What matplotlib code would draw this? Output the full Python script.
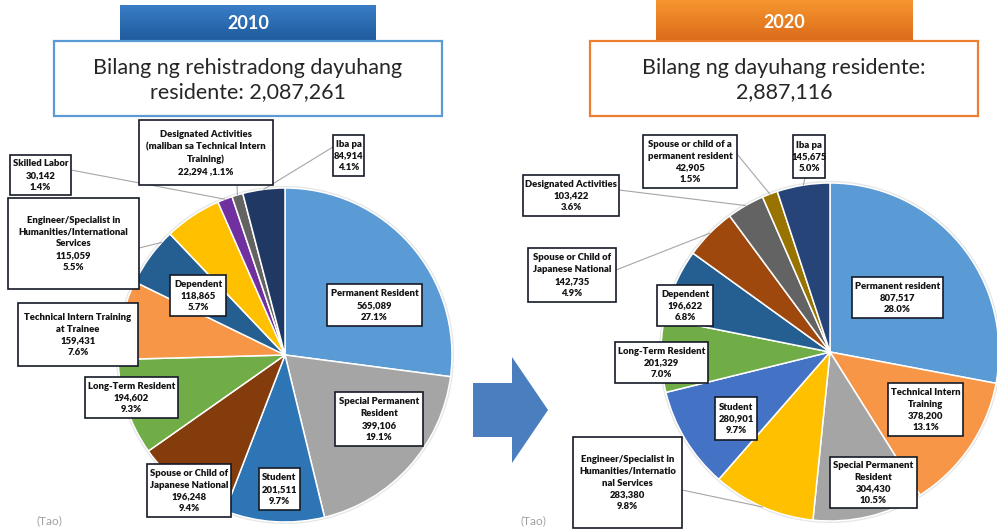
import numpy as np
import matplotlib.pyplot as plt
from matplotlib import font_manager
from matplotlib.font_manager import FontProperties
from matplotlib.patches import Rectangle, Polygon, Circle
from matplotlib.colors import LinearSegmentedColormap

plt.rcParams['font.family'] = ['Lato', 'DejaVu Sans']

# labels need a real bold face; fall back to Roboto if Lato Bold is missing
label_family = 'Lato'
try:
    p = font_manager.findfont(FontProperties(family='Lato', weight='bold'),
                              fallback_to_default=False)
    if 'bold' not in p.lower():
        label_family = 'Roboto'
except Exception:
    label_family = 'Roboto'

W, H = 997, 530

# ---------------- data ----------------
names_2010 = ["Permanent Resident", "Special Permanent\nResident", "Student",
              "Spouse or Child of\nJapanese National", "Long-Term Resident",
              "Technical Intern Training\nat Trainee", "Dependent",
              "Engineer/Specialist in\nHumanities/International\nServices",
              "Skilled Labor",
              "Designated Activities\n(maliban sa Technical Intern\nTraining)",
              "Iba pa"]
values_2010 = [565089, 399106, 201511, 196248, 194602, 159431, 118865, 115059,
               30142, 22294, 84914]
colors_2010 = ["#5B9BD5", "#A5A5A5", "#2E75B6", "#843C0C", "#70AD47", "#F79646",
               "#255E91", "#FFC000", "#7030A0", "#636363", "#203864"]

names_2020 = ["Permanent resident", "Technical Intern\nTraining",
              "Special Permanent\nResident",
              "Engineer/Specialist in\nHumanities/Internatio\nnal Services",
              "Student", "Long-Term Resident", "Dependent",
              "Spouse or Child of\nJapanese National", "Designated Activities",
              "Spouse or child of a\npermanent resident", "Iba pa"]
values_2020 = [807517, 378200, 304430, 283380, 280901, 201329, 196622, 142735,
               103422, 42905, 145675]
colors_2020 = ["#5B9BD5", "#F79646", "#A5A5A5", "#FFC000", "#4472C4", "#70AD47",
               "#255E91", "#9E480E", "#636363", "#997300", "#264478"]

total_2010 = "2,087,261"
total_2020 = "2,887,116"

# ---------------- layout (pixels, origin top-left) ----------------
boxes_2010 = [(327, 284, 422, 326), (335, 392, 423, 446), (259, 468, 300, 510),
              (147, 464, 231, 517), (85, 377, 178, 418), (18, 303, 138, 366),
              (170, 275, 226, 316), (8, 198, 139, 289), (10, 155, 71, 195),
              (139, 120, 273, 185), (333, 135, 364, 176)]
boxes_2020 = [(852, 277, 943, 318), (888, 383, 963, 436), (830, 457, 917, 508),
              (573, 437, 682, 528), (715, 397, 757, 440), (615, 342, 708, 383),
              (657, 285, 713, 326), (528, 248, 616, 302), (523, 175, 619, 216),
              (643, 135, 737, 188), (793, 135, 825, 178)]
# leader lines: index -> (start x, start y, angle shift)
leaders_2010 = {7: (139, 248, 14), 8: (71, 170, 0), 9: (237, 185, 0), 10: (333, 147, 0)}
leaders_2020 = {3: (682, 490, 0), 7: (616, 270, 0), 8: (619, 190, 0),
                9: (737, 154, 0), 10: (805, 178, 0)}
inline_2010 = {9}

fig = plt.figure(figsize=(W / 100, H / 100), dpi=100)
fig.patch.set_facecolor("white")

ov = fig.add_axes([0, 0, 1, 1], zorder=3)
ov.set_xlim(0, W)
ov.set_ylim(H, 0)
ov.axis("off")
ov.patch.set_alpha(0)


def pie_axes(cx, cy, r):
    ax = fig.add_axes([(cx - r) / W, (H - cy - r) / H, 2 * r / W, 2 * r / H], zorder=1)
    return ax


def draw_pie(ax, values, colors):
    # faint shadow like the original
    ax.add_patch(Circle((0, 0), 1.012, facecolor="#e6e6e6", edgecolor="none",
                        zorder=0, clip_on=False))
    ax.pie(values, colors=colors, startangle=90, counterclock=False, radius=1,
           wedgeprops=dict(edgecolor="white", linewidth=1.1))
    ax.set_xlim(-1, 1)
    ax.set_ylim(-1, 1)
    ax.axis("off")


def mid_angles(values):
    v = np.array(values, dtype=float)
    cum = np.cumsum(v) - v / 2
    return 90 - 360 * cum / v.sum()


def draw_labels(ax, names, values, boxes, leaders, inline=()):
    tot = sum(values)
    ang = mid_angles(values)
    for i, (nm, val, bx) in enumerate(zip(names, values, boxes)):
        pct = val / tot * 100
        if i in inline:
            txt = f"{nm}\n{val:,} ,{pct:.1f}%"
        else:
            txt = f"{nm}\n{val:,}\n{pct:.1f}%"
        x0, y0, x1, y1 = bx
        if i in leaders:
            sx, sy, shift = leaders[i]
            t = np.deg2rad(ang[i] + shift)
            ov.annotate("", xy=(np.cos(t), np.sin(t)), xycoords=ax.transData,
                        xytext=(sx, sy), textcoords="data",
                        arrowprops=dict(arrowstyle="-", color="#A6A6A6", lw=0.8,
                                        shrinkA=0, shrinkB=0), zorder=3)
        ov.add_patch(Rectangle((x0, y0), x1 - x0, y1 - y0, facecolor="white",
                               edgecolor="#151a26", lw=1.2, zorder=4))
        ov.text((x0 + x1) / 2, (y0 + y1) / 2 + 0.5, txt, ha="center", va="center",
                fontsize=6.8, fontweight="heavy", color="#141414",
                family=[label_family, 'DejaVu Sans'],
                linespacing=1.42, zorder=5)


ax1 = pie_axes(285, 355, 167)
draw_pie(ax1, values_2010, colors_2010)
ax2 = pie_axes(830, 352, 169)
draw_pie(ax2, values_2020, colors_2020)

draw_labels(ax1, names_2010, values_2010, boxes_2010, leaders_2010, inline_2010)
draw_labels(ax2, names_2020, values_2020, boxes_2020, leaders_2020)


def banner(x0, x1, y0, y1, c_top, c_bot, text):
    cmap = LinearSegmentedColormap.from_list("g", [c_top, c_bot])
    grad = np.linspace(0, 1, 64).reshape(-1, 1)
    ov.imshow(grad, cmap=cmap, extent=(x0, x1, y1, y0), origin="upper",
              aspect="auto", zorder=2)
    ov.text((x0 + x1) / 2, (y0 + y1) / 2 + 1, text, ha="center", va="center",
            fontsize=13, fontweight="bold", color="white", zorder=3,
            family=[label_family, 'DejaVu Sans'])


banner(120, 376, 5, 40, "#3A7DC6", "#1F5C9E", "2010")
banner(656, 912, 0, 43, "#F7962E", "#D9691A", "2020")
ov.set_xlim(0, W)
ov.set_ylim(H, 0)

ov.add_patch(Rectangle((54, 41), 388, 75, facecolor="white", edgecolor="#5B9BD5",
                       lw=1.6, zorder=2))
ov.text(248, 80, "Bilang ng rehistradong dayuhang\nresidente: " + total_2010,
        ha="center", va="center", fontsize=15.5, color="#262626",
        linespacing=1.3, zorder=3)
ov.add_patch(Rectangle((590, 41), 388, 75, facecolor="white", edgecolor="#ED7D31",
                       lw=1.6, zorder=2))
ov.text(784, 80, "Bilang ng dayuhang residente:\n" + total_2020,
        ha="center", va="center", fontsize=15.5, color="#262626",
        linespacing=1.3, zorder=3)

# arrow between the pies
ov.add_patch(Polygon([(473, 383), (512, 383), (512, 357), (548, 410),
                      (512, 463), (512, 437), (473, 437)], closed=True,
                     facecolor="#4A7EBF", edgecolor="none", zorder=2))

ov.text(49, 521, "(Tao)", ha="center", va="center", fontsize=8.5, color="#A0A0A0")
ov.text(533, 521, "(Tao)", ha="center", va="center", fontsize=8.5, color="#A0A0A0")

fig.savefig("out.png", dpi=100)
